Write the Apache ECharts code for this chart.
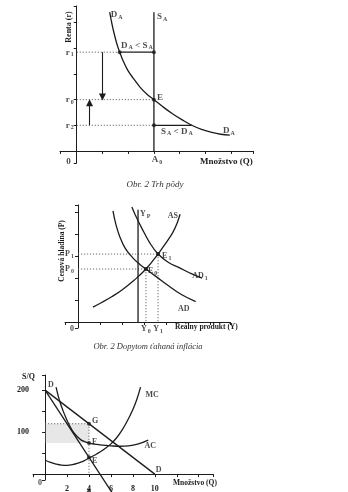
<!DOCTYPE html>
<html>
<head>
<meta charset="utf-8">
<script src="https://cdn.jsdelivr.net/npm/echarts@6.0.0/dist/echarts.min.js"></script>
<style>
html,body{margin:0;padding:0;background:#ffffff;}
#chart{width:348px;height:492px;}
</style>
</head>
<body>
<div id="chart"></div>
<script>
// ===== Chart 1: Trh pôdy (land market) =====
const landDemandQ    = [1.28, 1.38, 1.48, 1.57, 1.67, 1.80, 1.98, 2.20, 2.45, 2.72, 3.00, 3.35, 3.72, 4.10, 4.47, 4.85, 5.25, 5.60, 5.95];
const landDemandRent = [5.41, 4.90, 4.47, 4.14, 3.85, 3.52, 3.15, 2.83, 2.50, 2.22, 2.00, 1.72, 1.45, 1.21, 1.00, 0.84, 0.72, 0.65, 0.62];
const landSupplyQ = 3.0;      // A0
const landSupplyTop = 5.41;
const rentR1 = 3.85, rentR0 = 2.0, rentR2 = 1.0;
const demandQAtR1 = 1.67, demandQAtR2 = 4.47;
const arrowDownQ = 1.0, arrowUpQ = 0.5;

// ===== Chart 2: Dopytom ťahaná inflácia =====
const asQ  = [0.68, 1.10, 1.55, 2.00, 2.55, 3.09, 3.64, 4.00, 4.30, 4.50, 4.64];
const asP  = [0.68, 0.90, 1.16, 1.46, 1.90, 2.41, 3.09, 3.60, 4.05, 4.48, 4.90];
const adQ  = [1.59, 1.72, 1.90, 2.15, 2.48, 2.80, 3.09, 3.60, 4.10, 4.70, 5.35];
const adP  = [5.05, 4.45, 3.88, 3.35, 2.93, 2.63, 2.41, 2.03, 1.66, 1.25, 0.93];
const ad1Q = [2.45, 2.60, 2.90, 3.27, 3.64, 4.10, 4.64, 5.15, 5.64];
const ad1P = [5.23, 4.88, 4.27, 3.59, 3.09, 2.72, 2.45, 2.20, 2.00];
const potentialY = 2.73, potentialTop = 5.1;
const eqY0 = 3.09, eqP0 = 2.41, eqY1 = 3.64, eqP1 = 3.09;

// ===== Chart 3: monopoly =====
const demandQ = [0, 10],  demandP = [200, 0];
const mrQ = [0, 6.1],     mrP = [200, -44];
const acQ = [1.0, 1.2, 1.4, 1.65, 1.9, 2.2, 2.55, 2.9, 3.3, 3.65, 4.0, 4.5, 5.0, 5.5, 6.0, 6.8, 7.6, 8.5, 9.4];
const acC = [207, 186, 168, 150, 134, 117, 101, 90, 81, 77, 74, 71.5, 69.8, 68.4, 67.3, 66.3, 67.2, 72, 81];
const mcQ = [0, 0.5, 1.0, 1.5, 2.0, 2.5, 3.0, 3.5, 4.0, 4.5, 5.0, 5.5, 6.0, 6.5, 7.0, 7.5, 8.0, 8.35, 8.7];
const mcC = [33, 28, 24, 21.5, 21, 22.5, 26, 31, 38, 45, 52.5, 61.5, 72, 86, 104, 127, 154, 177, 207];
const optQ = 4, priceG = 120, costF = 74, costE = 40;
const arrowMarkP = -38;
const qTickLabels = [2, 4, 6, 8, 10];
const pTickLabels = [100, 200];

// ===== rendering =====
const FONT = 'Liberation Serif';
const INK = '#1c1c1c';
const DOT = '#6a6a6a';
const zip = (a, b) => a.map((v, i) => [v, b[i]]);

function richSet(size) {
  const base = {fontFamily: FONT, fontWeight: 'bold', color: INK};
  return {
    m: Object.assign({fontSize: size, lineHeight: size + 3}, base),
    s: Object.assign({fontSize: Math.round(size * 0.7), lineHeight: size, padding: [Math.round(size * 0.6), 0, 0, 1]}, base)
  };
}
function labelSeries(gi, items, size) {
  const rich = richSet(size);
  return {
    type: 'scatter', xAxisIndex: gi, yAxisIndex: gi, symbolSize: 0, silent: true, clip: false, z: 10,
    itemStyle: {color: 'transparent'},
    data: items.map(it => ({
      value: it.at,
      label: {show: true, formatter: it.t, position: it.pos, distance: it.d == null ? 3 : it.d,
              offset: it.off || [0, 0], rich: rich}
    }))
  };
}
function axis(gi, min, max, step, extra) {
  return Object.assign({
    type: 'value', gridIndex: gi, min: min, max: max, minInterval: step, maxInterval: step,
    axisLine: {show: true, onZero: true, lineStyle: {color: INK, width: 1}},
    axisTick: {show: true, length: 3, lineStyle: {color: INK, width: 1}},
    axisLabel: {show: false}, splitLine: {show: false}
  }, extra || {});
}
function line(gi, data, extra) {
  return Object.assign({
    type: 'line', xAxisIndex: gi, yAxisIndex: gi, data: data, symbol: 'none', silent: true,
    lineStyle: {color: INK, width: 1.3}
  }, extra || {});
}
function dotted(gi, data) {
  return line(gi, data, {lineStyle: {color: DOT, width: 1, type: [1.2, 1.8]}, z: 1});
}
const tickLabelStyle = {fontFamily: FONT, fontWeight: 'bold', fontSize: 8, color: INK};

const chart = echarts.init(document.getElementById('chart'), null, {renderer: 'canvas'});
const option = {
  animation: false,
  backgroundColor: '#ffffff',
  grid: [
    {left: 60, top: 6, width: 193, height: 157, outerBoundsMode: 'none'},
    {left: 65, top: 205, width: 165, height: 123, outerBoundsMode: 'none'},
    {left: 33, top: 375, width: 180, height: 105, outerBoundsMode: 'none'}
  ],
  xAxis: [
    axis(0, -0.65, 6.85, 1),
    axis(1, -0.59, 6.91, 1),
    axis(2, -1.1, 15.3, 2, {axisLabel: {show: true, margin: 5, ...tickLabelStyle,
      formatter: v => qTickLabels.includes(v) ? String(v) : ''}})
  ],
  yAxis: [
    axis(0, -0.47, 5.65, 1),
    axis(1, -0.27, 5.32, 1),
    axis(2, -14, 236, 50, {axisLabel: {show: true, margin: 4, ...tickLabelStyle,
      formatter: v => pTickLabels.includes(v) ? String(v) : ''}})
  ],
  graphic: [
    {type: 'text', x: 69, y: 27, rotation: Math.PI / 2,
     style: {text: 'Renta (r)', align: 'center', verticalAlign: 'middle', font: 'bold 8px "Liberation Serif"', fill: INK}},
    {type: 'text', x: 200, y: 162,
     style: {text: 'Množstvo (Q)', align: 'left', verticalAlign: 'middle', font: 'bold 9px "Liberation Serif"', fill: INK}},
    {type: 'text', x: 155, y: 185,
     style: {text: 'Obr. 2 Trh pôdy', align: 'center', verticalAlign: 'middle', font: 'italic 9px "Liberation Serif"', fill: '#333'}},
    {type: 'text', x: 62, y: 251, rotation: Math.PI / 2,
     style: {text: 'Cenová hladina (P)', align: 'center', verticalAlign: 'middle', font: 'bold 7.5px "Liberation Serif"', fill: INK}},
    {type: 'text', x: 175, y: 327,
     style: {text: 'Reálny produkt (Y)', align: 'left', verticalAlign: 'middle', font: 'bold 7.5px "Liberation Serif"', fill: INK}},
    {type: 'text', x: 148, y: 347,
     style: {text: 'Obr. 2 Dopytom ťahaná inflácia', align: 'center', verticalAlign: 'middle', font: 'italic 8.5px "Liberation Serif"', fill: '#333'}},
    {type: 'text', x: 22, y: 377,
     style: {text: 'S/Q', align: 'left', verticalAlign: 'middle', font: 'bold 8px "Liberation Serif"', fill: INK}},
    {type: 'text', x: 173, y: 483,
     style: {text: 'Množstvo (Q)', align: 'left', verticalAlign: 'middle', font: 'bold 7.5px "Liberation Serif"', fill: INK}}
  ],
  series: [
    // ---------- chart 1 ----------
    line(0, zip(landDemandQ, landDemandRent), {smooth: 0.4}),
    line(0, [[landSupplyQ, 0], [landSupplyQ, landSupplyTop]], {
      markLine: {silent: true, symbol: ['none', 'triangle'], symbolSize: 7, label: {show: false},
        lineStyle: {color: INK, width: 1.1, type: 'solid'},
        data: [
          [{coord: [arrowDownQ, rentR1]}, {coord: [arrowDownQ, rentR0 + 0.1]}],
          [{coord: [arrowUpQ, rentR2]}, {coord: [arrowUpQ, rentR0 - 0.12]}]
        ]}
    }),
    dotted(0, [[0, rentR1], [demandQAtR1, rentR1]]),
    dotted(0, [[0, rentR0], [landSupplyQ, rentR0]]),
    dotted(0, [[0, rentR2], [landSupplyQ, rentR2]]),
    line(0, [[demandQAtR1, rentR1], [landSupplyQ, rentR1]]),
    line(0, [[landSupplyQ, rentR2], [demandQAtR2, rentR2]]),
    {type: 'scatter', xAxisIndex: 0, yAxisIndex: 0, symbolSize: 4, itemStyle: {color: INK}, silent: true, z: 5,
     data: [[demandQAtR1, rentR1], [landSupplyQ, rentR1], [landSupplyQ, rentR0], [landSupplyQ, rentR2]]},
    labelSeries(0, [
      {at: [landDemandQ[0], landDemandRent[0]], t: '{m|D}{s|A}', pos: 'right', d: 1, off: [0, 3]},
      {at: [landSupplyQ, landSupplyTop], t: '{m|S}{s|A}', pos: 'right', d: 3, off: [0, 5]},
      {at: [(demandQAtR1 + landSupplyQ) / 2, rentR1], t: '{m|D}{s|A}{m| < S}{s|A}', pos: 'top', d: 1},
      {at: [landSupplyQ, rentR0], t: '{m|E}', pos: 'right', d: 3, off: [0, -2]},
      {at: [(landSupplyQ + demandQAtR2) / 2, rentR2], t: '{m|S}{s|A}{m| < D}{s|A}', pos: 'bottom', d: 0, off: [4, 0]},
      {at: [landDemandQ[landDemandQ.length - 1], landDemandRent[landDemandRent.length - 1]], t: '{m|D}{s|A}', pos: 'top', d: 0, off: [-1, 2]},
      {at: [0, rentR1], t: '{m|r}{s|1}', pos: 'left', d: 3},
      {at: [0, rentR0], t: '{m|r}{s|0}', pos: 'left', d: 3},
      {at: [0, rentR2], t: '{m|r}{s|2}', pos: 'left', d: 3},
      {at: [landSupplyQ, 0], t: '{m|A}{s|0}', pos: 'bottom', d: 3, off: [3, 0]},
      {at: [0, 0], t: '{m|0}', pos: 'left', d: 6, off: [0, 11]}
    ], 9),

    // ---------- chart 2 ----------
    line(1, zip(asQ, asP), {smooth: 0.4}),
    line(1, zip(adQ, adP), {smooth: 0.4}),
    line(1, zip(ad1Q, ad1P), {smooth: 0.4}),
    line(1, [[potentialY, 0], [potentialY, potentialTop]]),
    dotted(1, [[0, eqP1], [eqY1, eqP1]]),
    dotted(1, [[0, eqP0], [eqY0, eqP0]]),
    dotted(1, [[eqY0, eqP0], [eqY0, 0]]),
    dotted(1, [[eqY1, eqP1], [eqY1, 0]]),
    {type: 'scatter', xAxisIndex: 1, yAxisIndex: 1, symbol: 'rect', symbolSize: 4, itemStyle: {color: INK}, silent: true, z: 5,
     data: [[eqY0, eqP0], [eqY1, eqP1]]},
    labelSeries(1, [
      {at: [potentialY, potentialTop], t: '{m|Y}{s|P}', pos: 'right', d: 2, off: [0, 4]},
      {at: [asQ[asQ.length - 1], asP[asP.length - 1]], t: '{m|AS}', pos: 'left', d: 2, off: [0, 2]},
      {at: [eqY1, eqP1], t: '{m|E}{s|1}', pos: 'right', d: 4, off: [0, 2]},
      {at: [eqY0, eqP0], t: '{m|E}{s|0}', pos: 'right', d: 2, off: [0, 2]},
      {at: [ad1Q[ad1Q.length - 1], ad1P[ad1P.length - 1]], t: '{m|AD}{s|1}', pos: 'inside', off: [-2, -2]},
      {at: [adQ[adQ.length - 1], adP[adP.length - 1]], t: '{m|AD}', pos: 'inside', off: [-12, 7]},
      {at: [0, eqP1], t: '{m|P}{s|1}', pos: 'left', d: 4},
      {at: [0, eqP0], t: '{m|P}{s|0}', pos: 'left', d: 4},
      {at: [eqY0, 0], t: '{m|Y}{s|0}', pos: 'bottom', d: 1},
      {at: [eqY1, 0], t: '{m|Y}{s|1}', pos: 'bottom', d: 1},
      {at: [0, 0], t: '{m|0}', pos: 'left', d: 4, off: [0, 7]}
    ], 8),

    // ---------- chart 3 ----------
    line(2, zip(demandQ, demandP), {
      markArea: {silent: true, itemStyle: {color: 'rgba(175,175,175,0.3)'},
        data: [[{coord: [0, costF]}, {coord: [optQ, priceG]}]]}
    }),
    line(2, zip(mrQ, mrP), {clip: false}),
    line(2, zip(acQ, acC), {smooth: 0.4}),
    line(2, zip(mcQ, mcC), {smooth: 0.4}),
    dotted(2, [[0, priceG], [optQ, priceG]]),
    dotted(2, [[optQ, priceG], [optQ, 0]]),
    {type: 'scatter', xAxisIndex: 2, yAxisIndex: 2, symbolSize: 4, itemStyle: {color: INK}, silent: true, z: 5,
     data: [[optQ, priceG], [optQ, costF], [optQ, costE]]},
    {type: 'scatter', xAxisIndex: 2, yAxisIndex: 2, symbol: 'triangle', symbolSize: 5, itemStyle: {color: INK},
     silent: true, clip: false, data: [[optQ, arrowMarkP]]},
    labelSeries(2, [
      {at: [demandQ[0], demandP[0]], t: '{m|D}', pos: 'right', d: 3, off: [0, -5]},
      {at: [demandQ[1], demandP[1]], t: '{m|D}', pos: 'right', d: 1, off: [0, -4]},
      {at: [mcQ[mcQ.length - 1], mcC[mcC.length - 1]], t: '{m|MC}', pos: 'right', d: 5, off: [0, 8]},
      {at: [acQ[acQ.length - 1], acC[acC.length - 1]], t: '{m|AC}', pos: 'bottom', d: 0, off: [2, 0]},
      {at: [optQ, priceG], t: '{m|G}', pos: 'right', d: 3, off: [0, -3]},
      {at: [optQ, costF], t: '{m|F}', pos: 'right', d: 3, off: [0, -1]},
      {at: [optQ, costE], t: '{m|E}', pos: 'right', d: 3, off: [0, 4]},
      {at: [0, 0], t: '{m|0}', pos: 'left', d: 3, off: [0, 9]}
    ], 8)
  ]
};
chart.setOption(option);
</script>
</body>
</html>
